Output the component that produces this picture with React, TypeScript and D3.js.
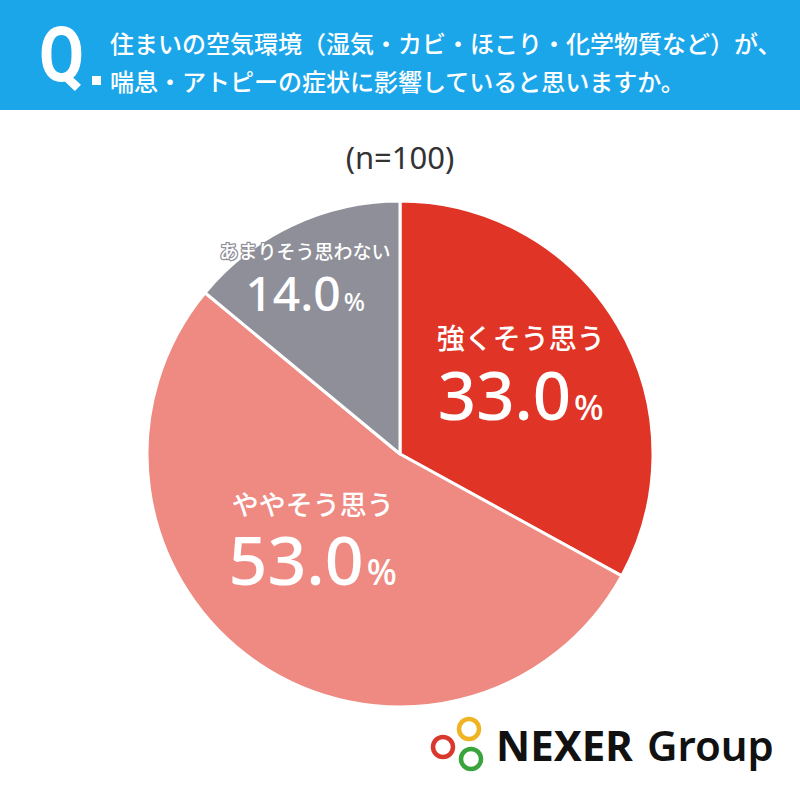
import React, { useEffect, useRef } from "react";
import * as d3 from "d3";

// survey answers, clockwise from 12 o'clock
const categories = ["強くそう思う", "ややそう思う", "あまりそう思わない"];
const values = [33.0, 53.0, 14.0];
const colors = ["#e03426", "#ee8a82", "#8e8f98"];

const titleLines = [
  "住まいの空気環境（湿気・カビ・ほこり・化学物質など）が、",
  "喘息・アトピーの症状に影響していると思いますか。",
];
const sampleNote = "(n=100)";

const JP = "'Noto Sans CJK JP', 'Noto Sans', sans-serif";
const NUM = "'Noto Sans', 'Noto Sans CJK JP', sans-serif";

const App: React.FC = () => {
  const ref = useRef<SVGSVGElement | null>(null);

  useEffect(() => {
    if (!ref.current) return;
    const width = 800;
    const height = 795;
    const svg = d3.select(ref.current);
    svg.selectAll("*").remove();
    svg.attr("width", width).attr("height", height);

    svg.append("rect").attr("width", width).attr("height", height).attr("fill", "#fff");

    // header band
    svg.append("rect").attr("width", width).attr("height", 110).attr("fill", "#1ca6ea");
    svg.append("text")
      .attr("x", 39)
      .attr("y", 81)
      .attr("font-family", "Roboto, sans-serif")
      .attr("font-weight", 700)
      .attr("font-size", 76)
      .attr("textLength", 45)
      .attr("lengthAdjust", "spacingAndGlyphs")
      .attr("fill", "#fff")
      .text("Q");
    svg.append("rect").attr("x", 92).attr("y", 76).attr("width", 9).attr("height", 9).attr("fill", "#fff");

    svg.append("g")
      .selectAll("text")
      .data(titleLines)
      .join("text")
      .attr("x", 110)
      .attr("y", (_, i) => 53 + i * 38)
      .attr("font-family", JP)
      .attr("font-weight", 500)
      .attr("font-size", 24)
      .attr("fill", "#fff")
      .text((d) => d);

    svg.append("text")
      .attr("x", 400)
      .attr("y", 169)
      .attr("text-anchor", "middle")
      .attr("font-family", NUM)
      .attr("font-size", 31)
      .attr("fill", "#333")
      .text(sampleNote);

    // pie
    const cx = 400;
    const cy = 454;
    const radius = 253;
    const pie = d3.pie<number>().sort(null).value((d) => d);
    const arcs = pie(values);
    const arc = d3.arc<d3.PieArcDatum<number>>().innerRadius(0).outerRadius(radius);

    const g = svg.append("g").attr("transform", `translate(${cx},${cy})`);
    g.selectAll("path")
      .data(arcs)
      .join("path")
      .attr("d", arc)
      .attr("fill", (_, i) => colors[i])
      .attr("stroke", "#fff")
      .attr("stroke-width", 3)
      .attr("stroke-linejoin", "round");

    // label placement per slice
    const labelRadius = [138, 125, 190];
    const nudge: [number, number][] = [[2, 5], [-17, -6], [-14, 2]];
    const labelSize = [28, 27, 19];
    const numSize = [67, 68, 48];
    const labelDy = [-40, -36, -25];
    const numDy = [31, 34, 27];

    arcs.forEach((d, i) => {
      const la = d3.arc<d3.PieArcDatum<number>>().innerRadius(labelRadius[i]).outerRadius(labelRadius[i]);
      const [x, y] = la.centroid(d);
      const px = x + nudge[i][0];
      const py = y + nudge[i][1];
      g.append("text")
        .attr("x", px)
        .attr("y", py + labelDy[i])
        .attr("text-anchor", "middle")
        .attr("font-family", JP)
        .attr("font-weight", 500)
        .attr("font-size", labelSize[i])
        .attr("fill", "#fff")
        .attr("stroke", colors[i])
        .attr("stroke-width", 2.5)
        .attr("stroke-linejoin", "round")
        .attr("paint-order", "stroke")
        .text(categories[i]);
      const t = g.append("text")
        .attr("x", px)
        .attr("y", py + numDy[i])
        .attr("text-anchor", "middle")
        .attr("font-family", NUM)
        .attr("font-weight", 500)
        .attr("fill", "#fff");
      t.append("tspan").attr("font-size", numSize[i]).text(d3.format(".1f")(d.data));
      t.append("tspan").attr("font-size", numSize[i] * 0.52).attr("dx", 3).text("%");
    });

    // logo
    const logo = svg.append("g");
    const rings = [
      { x: 469, y: 729, c: "#f0b323" },
      { x: 443, y: 747, c: "#d9392c" },
      { x: 471, y: 759, c: "#3aa43c" },
    ];
    logo.selectAll("circle")
      .data(rings)
      .join("circle")
      .attr("cx", (d) => d.x)
      .attr("cy", (d) => d.y)
      .attr("r", 10)
      .attr("fill", "none")
      .attr("stroke", (d) => d.c)
      .attr("stroke-width", 4.5);
    logo.append("text")
      .attr("x", 496)
      .attr("y", 761)
      .attr("font-family", NUM)
      .attr("font-weight", 700)
      .attr("font-size", 42)
      .attr("fill", "#111")
      .text("NEXER");
    logo.append("text")
      .attr("x", 647)
      .attr("y", 761)
      .attr("font-family", NUM)
      .attr("font-weight", 600)
      .attr("font-size", 42)
      .attr("fill", "#111")
      .text("Group");
  }, []);

  return <svg ref={ref} style={{ position: "absolute", left: 0, top: 0 }}></svg>;
};

export default App;
